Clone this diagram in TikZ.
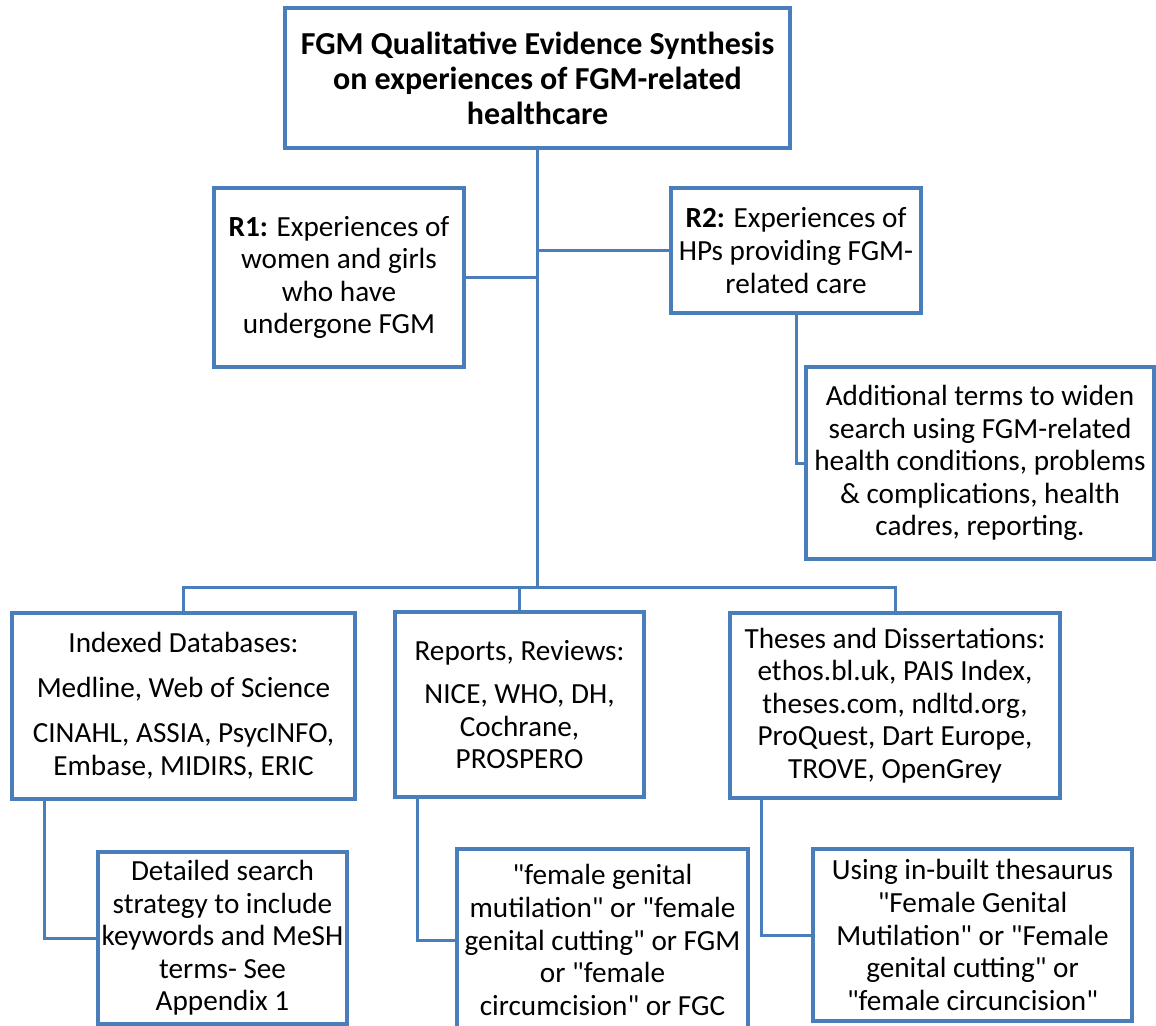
\documentclass[tikz,border=0pt]{standalone}
\usepackage{fontspec}
\setmainfont{Carlito}[Ligatures=TeXOff]
\definecolor{boxblue}{RGB}{74,126,187}
\tikzset{
  sized/.style 2 args={minimum width=#1*0.5pt, minimum height=#2*0.5pt}
}
\begin{document}
\begin{tikzpicture}[x=0.5pt,y=-0.5pt]
      \useasboundingbox (0,0) rectangle (1156,1026);
      \clip (0,0) rectangle (1156,1026);

      \begin{scope}[every node/.style={rectangle,draw=boxblue,line width=1.7pt,fill=white,
          inner sep=0pt,align=center,font=\fontsize{14.6}{16.3}\selectfont}]
        \node[sized={505}{140},font=\fontsize{16}{17.5}\selectfont\bfseries] (qes) at (537.5,78)
          {FGM Qualitative Evidence Synthesis\\ on experiences of FGM-related\\ healthcare};
        \node[sized={250}{179}] (r1) at (339,277.5)
          {\textbf{R1:} Experiences of\\ women and girls\\ who have\\ undergone FGM};
        \node[sized={250}{125}] (r2) at (796,250.5)
          {\textbf{R2:} Experiences of\\ HPs providing FGM-\\ related care};
        \node[sized={348}{192}] (add) at (980,463)
          {Additional terms to widen\\ search using FGM-related\\ health conditions, problems\\ \& complications, health\\ cadres, reporting.};
        \node[sized={343}{186}] (idx) at (183.5,706)
          {Indexed Databases:\\[6.2pt] Medline, Web of Science\\[6.2pt] CINAHL, ASSIA, PsycINFO,\\ Embase, MIDIRS, ERIC};
        \node[sized={249}{185}] (rep) at (519.5,704.5)
          {Reports, Reviews:\\[5.5pt] NICE, WHO, DH,\\ Cochrane,\\ PROSPERO};
        \node[sized={330}{185}] (thes) at (895,705.5)
          {Theses and Dissertations:\\ ethos.bl.uk, PAIS Index,\\ theses.com, ndltd.org,\\ ProQuest, Dart Europe,\\ TROVE, OpenGrey};
        \node[sized={249}{172}] (det) at (222.5,938)
          {Detailed search\\ strategy to include\\ keywords and MeSH\\ terms- See\\ Appendix 1};
        \node[sized={291}{182}] (terms) at (602.5,940)
          {"female genital\\ mutilation" or "female\\ genital cutting" or FGM\\ or "female\\ circumcision" or FGC};
        \node[sized={319}{172}] (thesaurus) at (972.5,935)
          {Using in-built thesaurus\\ "Female Genital\\ Mutilation" or "Female\\ genital cutting" or\\ "female circuncision"};
      \end{scope}

      \coordinate (bus) at (537.5,587);

      \begin{scope}[every path/.style={draw=boxblue,line width=1.5pt}]
        \path (qes.south) edge (bus);
        \path (r1.east) edge (r1.east -| bus);
        \path (r2.west) edge (r2.west -| bus);
        \draw (r2.south) |- (add.west);
        \draw (bus) -| (idx.north);
        \draw (bus) -| (rep.north);
        \draw (bus) -| (thes.north);
        \draw (idx.south west) ++(34,0) |- (det.west);
        \draw (rep.south west) ++(24,0) |- (terms.west);
        \draw (thes.south west) ++(33,0) |- (thesaurus.west);
      \end{scope}

    \end{tikzpicture}
\end{document}
